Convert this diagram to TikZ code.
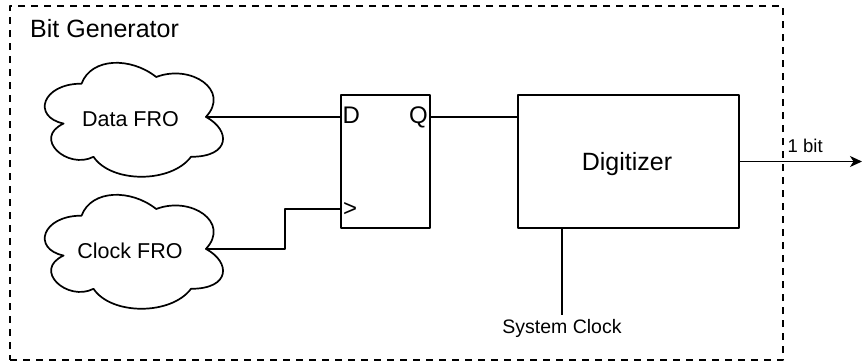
\documentclass[tikz,border=0pt]{standalone}
\usepackage{fontspec}
\setmainfont{Liberation Sans}
\usetikzlibrary{arrows.meta,calc}
\newcommand\drawcloudshape[1]{%
 \begin{scope}[shift={(#1.north west)},x=199pt,y=-133pt]
  \draw[wire] (0.25,0.25) .. controls (0.05,0.25) and (0,0.5) .. (0.16,0.55)
   .. controls (0,0.66) and (0.18,0.9) .. (0.31,0.8)
   .. controls (0.4,1) and (0.7,1) .. (0.8,0.8)
   .. controls (1,0.8) and (1,0.6) .. (0.875,0.5)
   .. controls (1,0.3) and (0.8,0.1) .. (0.625,0.2)
   .. controls (0.5,0.05) and (0.3,0.05) .. (0.25,0.25) -- cycle;
  \coordinate (#1out) at (0.875,0.5);
 \end{scope}}
\begin{document}
\begin{tikzpicture}[x=1pt,y=-1pt,line join=round,
  wire/.style={line width=1.7pt},
  framebox/.style={draw,line width=2pt,dash pattern=on 7pt off 6pt,inner sep=0pt,minimum width=773pt,minimum height=354pt},
  cloudbox/.style={inner sep=0pt,minimum width=199pt,minimum height=133pt},
  blockbox/.style={draw,line width=1.7pt,inner sep=0pt,minimum height=133pt},
  bigtxt/.style={font=\fontsize{25}{30}\selectfont,inner sep=0pt},
  cloudtxt/.style={font=\fontsize{21.5}{26}\selectfont,inner sep=0pt},
  pintxt/.style={font=\fontsize{24}{28}\selectfont,inner sep=0pt},
  smalltxt/.style={font=\fontsize{19.5}{23}\selectfont,inner sep=0pt},
  outarrow/.style={wire,-{Stealth[length=12pt,width=11pt,inset=3.5pt]}}]
\useasboundingbox (0,0) rectangle (863,362);
\node[framebox] (frame) at (396.5,183) {};
\node[bigtxt,anchor=base west] (title) at (30,37) {Bit Generator};
% clouds
\node[cloudbox] (data) at (131.5,117.1) {};
\drawcloudshape{data}
\node[cloudtxt,anchor=base] (datatext) at (130.5,126) {Data FRO};
\node[cloudbox] (clock) at (131.5,249.1) {};
\drawcloudshape{clock}
\node[cloudtxt,anchor=base] (clocktext) at (130,258.5) {Clock FRO};
% flip-flop
\node[blockbox,minimum width=89pt] (ff) at (385.5,161.5) {};
\node[pintxt,anchor=base west] (dlabel) at (342.5,123) {D};
\node[pintxt,anchor=base east] (qlabel) at (428,123) {Q};
\node[pintxt,anchor=west] (clklabel) at (343,210) {>};
\coordinate (ffd) at ($(ff.north west)+(0,23)$);
\coordinate (ffclk) at ($(ff.north west)+(0,115)$);
\coordinate (ffq) at ($(ff.north east)+(0,23)$);
% digitizer
\node[blockbox,minimum width=221pt] (dig) at (628.5,161.5) {};
\node[bigtxt,anchor=base] (digtext) at (627,170) {Digitizer};
\coordinate (outend) at (862,161.5);
\coordinate (sysclk) at (562,315);
\node[smalltxt,anchor=base] (systext) at (562,333) {System Clock};
\node[font=\fontsize{18.5}{22}\selectfont,inner sep=0pt,anchor=base west] (bitlabel) at (787.5,152) {1 bit};
% connectors
\draw[wire] (dataout) -- (ffd |- dataout);
\draw[wire] (clockout) -| ($(ffclk)+(-55,0)$) -- (ffclk);
\draw[wire] (ffq) -- (ffq -| dig.west);
\draw[outarrow] (dig.east) -- (outend);
\draw[wire] (sysclk |- dig.south) -- (sysclk);
\end{tikzpicture}
\end{document}
